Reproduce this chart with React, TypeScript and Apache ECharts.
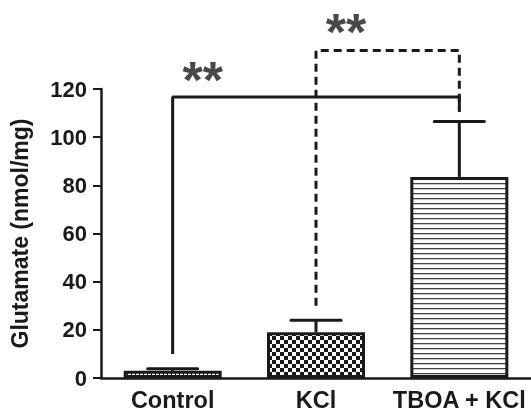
import React, { useEffect, useRef } from "react";
import * as echarts from "echarts";

const categories = ["Control", "KCl", "TBOA + KCl"];
const means = [3, 19, 83.5];
const sems = [0.8, 5, 23];
const yTicks = { min: 0, max: 120, interval: 20 };
const solidBracket: [string, number][] = [["Control", 10], ["Control", 116.7], ["TBOA + KCl", 116.7], ["TBOA + KCl", 110.5]];
const dashedBracket: [string, number][] = [["KCl", 30], ["KCl", 136], ["TBOA + KCl", 136], ["TBOA + KCl", 112]];
const starLabels = ["**", "**"];
const starPositions: [string, number][] = [["Control", 124], ["KCl", 144]];

const INK = "#1a1a1a";

function makePattern(kind: string) {
  const c = document.createElement("canvas");
  const ctx = c.getContext("2d")!;
  if (kind === "dots") {
    c.width = 4; c.height = 4;
    ctx.fillStyle = INK; ctx.fillRect(0, 0, 4, 4);
    ctx.fillStyle = "#fff"; ctx.fillRect(0, 1, 3, 2);
  } else if (kind === "checker") {
    c.width = 8; c.height = 8;
    ctx.fillStyle = "#fff"; ctx.fillRect(0, 0, 8, 8);
    ctx.fillStyle = INK; ctx.fillRect(0, 0, 4, 4); ctx.fillRect(4, 4, 4, 4);
  } else {
    c.width = 8; c.height = 5;
    ctx.fillStyle = "#fff"; ctx.fillRect(0, 0, 8, 5);
    ctx.fillStyle = "#444"; ctx.fillRect(0, 3, 8, 1.3);
  }
  return { image: c, repeat: "repeat", imageWidth: c.width, imageHeight: c.height } as any;
}

export default function App() {
  const ref = useRef<HTMLDivElement>(null);
  useEffect(() => {
    const chart = echarts.init(ref.current!, null, { renderer: "svg" });
    const patterns = [makePattern("dots"), makePattern("checker"), makePattern("lines")];
    const font = "Liberation Sans";
    chart.setOption({
      animation: false,
      grid: { left: 96, right: 0, top: 89, bottom: 33, containLabel: false },
      xAxis: {
        type: "category",
        data: categories,
        axisLine: { show: true, lineStyle: { color: INK, width: 2.5 } },
        axisTick: { show: false },
        axisLabel: { interval: 0, color: INK, fontFamily: font, fontWeight: "bold", fontSize: 23.5, margin: 10 },
      },
      yAxis: {
        type: "value",
        min: yTicks.min, max: yTicks.max, interval: yTicks.interval,
        name: "Glutamate (nmol/mg)",
        nameLocation: "middle",
        nameGap: 70,
        nameTextStyle: { color: INK, fontFamily: font, fontWeight: "bold", fontSize: 23 },
        axisLine: { show: true, lineStyle: { color: INK, width: 2.5 } },
        axisTick: { show: true, length: 8, lineStyle: { color: INK, width: 2 } },
        axisLabel: { color: INK, fontFamily: font, fontWeight: "bold", fontSize: 22, margin: 14 },
        splitLine: { show: false },
      },
      series: [
        {
          type: "bar",
          data: means.map((v, i) => ({ value: v, itemStyle: { color: patterns[i] } })),
          barWidth: 98,
          itemStyle: { borderColor: INK, borderWidth: 3 },
          z: 2,
        },
        {
          type: "custom",
          data: means.map((m, i) => [i, m, sems[i]]),
          encode: { x: 0, y: 1 },
          z: 3,
          renderItem: (params: any, api: any) => {
            const x = api.value(0);
            const m = api.value(1);
            const e = api.value(2);
            const base = api.coord([x, m]);
            const top = api.coord([x, m + e]);
            const half = 25;
            return {
              type: "group",
              children: [
                { type: "line", shape: { x1: base[0], y1: base[1], x2: top[0], y2: top[1] }, style: { stroke: INK, lineWidth: 3 } },
                { type: "line", shape: { x1: top[0] - half, y1: top[1], x2: top[0] + half, y2: top[1] }, style: { stroke: INK, lineWidth: 3, lineCap: "round" } },
              ],
            };
          },
        },
        {
          type: "line",
          data: solidBracket,
          symbol: "none",
          clip: false,
          lineStyle: { color: INK, width: 3 },
          z: 4,
        },
        {
          type: "line",
          data: dashedBracket,
          symbol: "none",
          clip: false,
          lineStyle: { color: INK, width: 3, type: [8, 5] },
          z: 4,
        },
        {
          type: "scatter",
          data: starPositions,
          symbolSize: 1,
          clip: false,
          itemStyle: { color: "rgba(0,0,0,0)" },
          label: {
            show: true,
            formatter: (p: any) => starLabels[p.dataIndex],
            position: "inside",
            offset: [30, 1],
            color: INK,
            fontFamily: font,
            fontWeight: "bold",
            fontSize: 52,
          },
          z: 5,
        },
      ],
    });
    return () => chart.dispose();
  }, []);
  return <div ref={ref} style={{ position: "fixed", left: 0, top: 0, width: 531, height: 412 }} />;
}
